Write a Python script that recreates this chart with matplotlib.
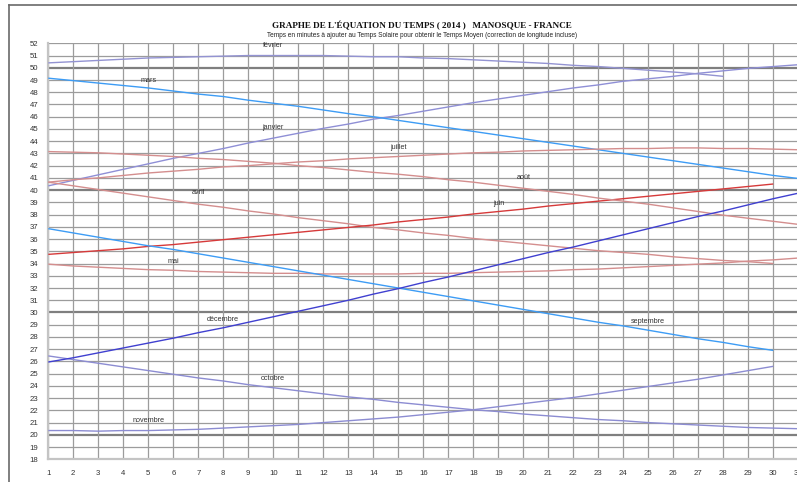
import matplotlib
matplotlib.use("Agg")
import matplotlib.pyplot as plt
from matplotlib.lines import Line2D

# ---- data (minutes to add to solar time) ----
janvier = [40.35, 40.8, 41.25, 41.7, 42.15, 42.6, 43.0, 43.4, 43.85, 44.25, 44.65, 45.05, 45.4, 45.8, 46.1,
           46.45, 46.8, 47.15, 47.45, 47.75, 48.05, 48.35, 48.6, 48.9, 49.1, 49.3, 49.55, 49.75, 49.95, 50.1, 50.25]
fevrier = [50.4, 50.5, 50.6, 50.7, 50.8, 50.85, 50.9, 50.95, 51.0, 51.0, 51.0, 51.0, 50.95, 50.9, 50.9,
           50.8, 50.75, 50.65, 50.55, 50.45, 50.35, 50.2, 50.1, 49.95, 49.8, 49.65, 49.5, 49.3]
mars = [49.15, 48.95, 48.75, 48.55, 48.35, 48.1, 47.85, 47.65, 47.35, 47.1, 46.85, 46.55, 46.25, 46.0, 45.7,
        45.4, 45.1, 44.8, 44.5, 44.2, 43.9, 43.6, 43.3, 43.0, 42.7, 42.4, 42.1, 41.8, 41.5, 41.2, 40.95]
avril = [40.65, 40.35, 40.05, 39.75, 39.45, 39.15, 38.85, 38.6, 38.3, 38.05, 37.75, 37.5, 37.25, 36.95, 36.75,
         36.5, 36.3, 36.05, 35.85, 35.65, 35.45, 35.25, 35.05, 34.9, 34.75, 34.55, 34.4, 34.25, 34.15, 34.0]
mai = [33.95, 33.8, 33.7, 33.6, 33.5, 33.45, 33.35, 33.3, 33.25, 33.2, 33.2, 33.15, 33.15, 33.15, 33.15,
       33.2, 33.2, 33.25, 33.3, 33.35, 33.4, 33.5, 33.55, 33.65, 33.75, 33.85, 33.95, 34.05, 34.2, 34.3, 34.45]
juin = [34.75, 34.9, 35.05, 35.2, 35.4, 35.55, 35.75, 35.95, 36.15, 36.35, 36.55, 36.75, 36.95, 37.15, 37.4,
        37.6, 37.8, 38.05, 38.25, 38.45, 38.7, 38.9, 39.1, 39.3, 39.5, 39.7, 39.9, 40.1, 40.3, 40.5]
juillet = [40.65, 40.85, 41.0, 41.2, 41.4, 41.55, 41.7, 41.9, 42.0, 42.15, 42.3, 42.4, 42.55, 42.65, 42.75,
           42.85, 42.95, 43.05, 43.1, 43.2, 43.25, 43.3, 43.35, 43.4, 43.4, 43.45, 43.45, 43.4, 43.4, 43.35, 43.3]
aout = [43.15, 43.1, 43.05, 42.95, 42.85, 42.75, 42.6, 42.5, 42.35, 42.2, 42.0, 41.85, 41.65, 41.45, 41.3,
        41.1, 40.85, 40.65, 40.4, 40.15, 39.9, 39.65, 39.35, 39.1, 38.85, 38.55, 38.25, 37.95, 37.7, 37.45, 37.2]
septembre = [36.85, 36.5, 36.15, 35.8, 35.45, 35.15, 34.8, 34.45, 34.1, 33.75, 33.4, 33.05, 32.7, 32.35, 32.0,
             31.65, 31.3, 30.95, 30.6, 30.25, 29.9, 29.55, 29.2, 28.9, 28.55, 28.2, 27.85, 27.55, 27.2, 26.9]
octobre = [26.45, 26.15, 25.85, 25.55, 25.25, 24.95, 24.65, 24.4, 24.1, 23.85, 23.6, 23.35, 23.1, 22.9, 22.65,
           22.45, 22.25, 22.05, 21.9, 21.7, 21.55, 21.4, 21.25, 21.15, 21.0, 20.9, 20.8, 20.7, 20.6, 20.55, 20.5]
novembre = [20.35, 20.35, 20.3, 20.35, 20.35, 20.4, 20.45, 20.55, 20.65, 20.75, 20.85, 21.0, 21.15, 21.3, 21.45,
            21.65, 21.85, 22.05, 22.3, 22.55, 22.8, 23.05, 23.35, 23.65, 23.95, 24.25, 24.55, 24.9, 25.25, 25.6]
decembre = [25.95, 26.3, 26.7, 27.1, 27.5, 27.9, 28.35, 28.75, 29.2, 29.65, 30.1, 30.55, 31.0, 31.5, 31.95,
            32.45, 32.9, 33.4, 33.9, 34.4, 34.9, 35.35, 35.85, 36.35, 36.85, 37.35, 37.85, 38.3, 38.8, 39.3, 39.75]

month_names = ["janvier", "février", "mars", "avril", "mai", "juin",
               "juillet", "août", "septembre", "octobre", "novembre", "décembre"]
month_values = [janvier, fevrier, mars, avril, mai, juin,
                juillet, aout, septembre, octobre, novembre, decembre]
# label anchor (day, minutes)
label_days = [10, 10, 5, 7, 6, 19, 15, 20, 25, 10, 5, 8]
label_vals = [45.1, 51.8, 49.0, 39.8, 34.15, 38.9, 43.5, 41.0, 29.25, 24.6, 21.15, 29.4]

days = list(range(1, 32))
y_ticks = list(range(18, 53))

colors = ["#8f8fd6", "#9393d2", "#3d9cf5", "#d48e8e", "#d48e8e", "#d63a3a",
          "#d48e8e", "#d48e8e", "#3d9cf5", "#8c8cd2", "#8c8cd2", "#4040d0"]

W, H = 797, 482
fig = plt.figure(figsize=(W / 100, H / 100), dpi=100)
fig.patch.set_facecolor("white")

# outer chart border
fig.add_artist(Line2D([9 / W, 9 / W], [0, 1 - 5 / H], transform=fig.transFigure, color="#6a6a6a", lw=1.2))
fig.add_artist(Line2D([9 / W, 1], [1 - 5 / H, 1 - 5 / H], transform=fig.transFigure, color="#6a6a6a", lw=1.2))

ax = fig.add_axes([48.3 / W, (H - 459.3) / H, 750 / W, 416 / H])
ax.set_xlim(1, 31)
ax.set_ylim(18, 52)
ax.set_facecolor("white")

# grid
for v in y_ticks:
    if v % 10 == 0:
        ax.axhline(v, color="#7f7f7f", lw=1.6, zorder=1)
    else:
        ax.axhline(v, color="#9c9c9c", lw=0.9, zorder=1)
for d in days:
    ax.axvline(d, color="#9c9c9c", lw=0.9, zorder=1)

for spine in ["top", "right"]:
    ax.spines[spine].set_visible(False)
for spine in ["left", "bottom"]:
    ax.spines[spine].set_color("#c4c4c4")
    ax.spines[spine].set_linewidth(1.6)

# month curves
for name, vals, col in zip(month_names, month_values, colors):
    ax.plot(days[:len(vals)], vals, color=col, lw=1.0, zorder=3, solid_capstyle="butt")

# month labels
for name, d, v in zip(month_names, label_days, label_vals):
    ax.text(d, v, name, fontsize=5.2, family="Liberation Sans", color="#333333",
            ha="center", va="center", zorder=4)

ax.set_xticks(days)
ax.set_xticklabels([str(d) for d in days])
ax.set_yticks(y_ticks)
ax.set_yticklabels([str(v) for v in y_ticks])
ax.tick_params(axis="both", length=0, labelsize=5.6, labelcolor="#333333")
ax.tick_params(axis="x", pad=8)
ax.tick_params(axis="y", pad=7)
for lab in ax.get_xticklabels() + ax.get_yticklabels():
    lab.set_family("Liberation Sans")

fig.text(422 / W, 1 - 26 / H, "GRAPHE DE L'ÉQUATION DU TEMPS ( 2014 )   MANOSQUE - FRANCE",
         fontsize=6.6, family="Liberation Serif", fontweight="bold", ha="center", va="center", color="#111111")
fig.text(422 / W, 1 - 35.7 / H,
         "Temps en minutes à ajouter au Temps Solaire pour obtenir le Temps Moyen (correction de longitude incluse)",
         fontsize=4.7, family="Liberation Sans", ha="center", va="center", color="#222222")

fig.savefig("out.png", dpi=100, facecolor="white")
